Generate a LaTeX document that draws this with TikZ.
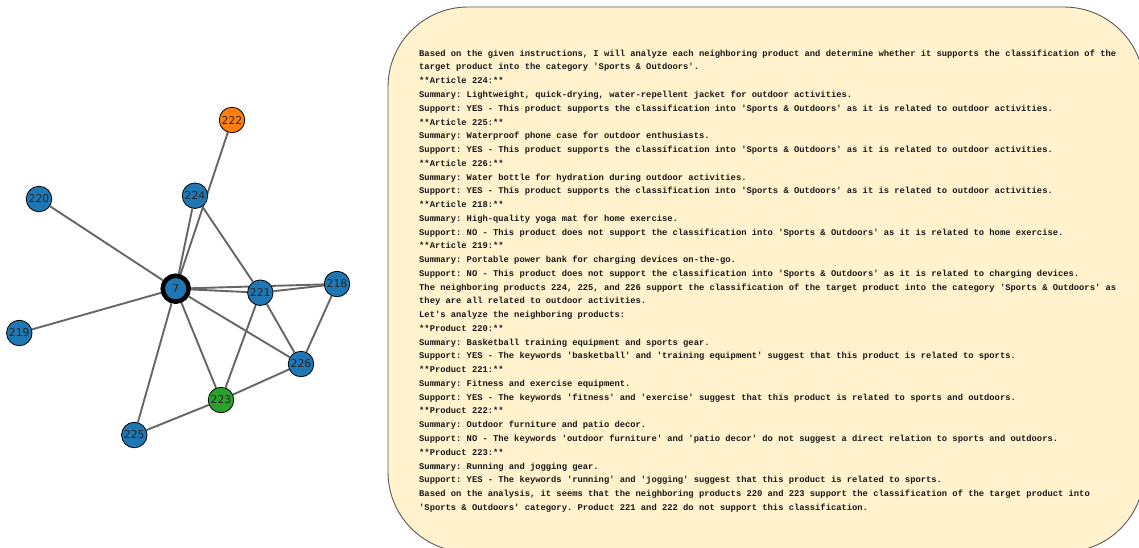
\documentclass[tikz,border=0pt]{standalone}
\usepackage{fontspec}
\usetikzlibrary{backgrounds}
\setmainfont{DejaVu Sans}
\setmonofont{Liberation Mono}
\definecolor{nodeblue}{HTML}{1F77B4}
\definecolor{nodeorange}{HTML}{FF7F0E}
\definecolor{nodegreen}{HTML}{2CA02C}
\definecolor{notefill}{HTML}{FFF2CC}
\definecolor{linkgray}{HTML}{666666}
\begin{document}
\begin{tikzpicture}[x=1pt, y=-1pt,
            vertex/.style={circle, draw=black, line width=0.8pt, fill=nodeblue,
                minimum size=25.5pt, inner sep=0pt, text=black!85,
                font=\fontsize{10.8}{10.8}\selectfont},
            target/.style={vertex, line width=4.5pt, minimum size=26pt},
            link/.style={draw=linkgray, line width=1.9pt},
            note/.style={draw=black!65, line width=0.9pt, fill=notefill, rounded corners=80pt}
        ]
            \useasboundingbox (0,0) rectangle (1139,547);
            \clip (0,0) rectangle (1139,547);

            % answer box - runs off the right and bottom edges
            \draw[note] (388,7) rectangle (1144,552);
            \node[anchor=north west, inner sep=0pt, align=left, text=black!90,
                font=\ttfamily\bfseries\fontsize{8.8}{13.76}\selectfont\frenchspacing] (answer) at (419,49.5) {%
Based on the given instructions, I will analyze each neighboring product and determine whether it supports the classification of the\\
target product into the category 'Sports \& Outdoors'.\\
**Article 224:**\\
Summary: Lightweight, quick-drying, water-repellent jacket for outdoor activities.\\
Support: YES - This product supports the classification into 'Sports \& Outdoors' as it is related to outdoor activities.\\
**Article 225:**\\
Summary: Waterproof phone case for outdoor enthusiasts.\\
Support: YES - This product supports the classification into 'Sports \& Outdoors' as it is related to outdoor activities.\\
**Article 226:**\\
Summary: Water bottle for hydration during outdoor activities.\\
Support: YES - This product supports the classification into 'Sports \& Outdoors' as it is related to outdoor activities.\\
**Article 218:**\\
Summary: High-quality yoga mat for home exercise.\\
Support: NO - This product does not support the classification into 'Sports \& Outdoors' as it is related to home exercise.\\
**Article 219:**\\
Summary: Portable power bank for charging devices on-the-go.\\
Support: NO - This product does not support the classification into 'Sports \& Outdoors' as it is related to charging devices.\\
The neighboring products 224, 225, and 226 support the classification of the target product into the category 'Sports \& Outdoors' as\\
they are all related to outdoor activities.\\
Let's analyze the neighboring products:\\
**Product 220:**\\
Summary: Basketball training equipment and sports gear.\\
Support: YES - The keywords 'basketball' and 'training equipment' suggest that this product is related to sports.\\
**Product 221:**\\
Summary: Fitness and exercise equipment.\\
Support: YES - The keywords 'fitness' and 'exercise' suggest that this product is related to sports and outdoors.\\
**Product 222:**\\
Summary: Outdoor furniture and patio decor.\\
Support: NO - The keywords 'outdoor furniture' and 'patio decor' do not suggest a direct relation to sports and outdoors.\\
**Product 223:**\\
Summary: Running and jogging gear.\\
Support: YES - The keywords 'running' and 'jogging' suggest that this product is related to sports.\\
Based on the analysis, it seems that the neighboring products 220 and 223 support the classification of the target product into\\
'Sports \& Outdoors' category. Product 221 and 222 do not support this classification.};

            % graph
            \node[target] (n7) at (175.7,288.7) {7};
            \node[vertex, fill=nodeorange] (n222) at (232,120) {222};
            \node[vertex] (n224) at (195,195.7) {224};
            \node[vertex] (n220) at (39,199) {220};
            \node[vertex] (n221) at (260.3,292.7) {221};
            \node[vertex] (n218) at (337,284) {218};
            \node[vertex] (n219) at (19.3,333) {219};
            \node[vertex] (n226) at (301,364) {226};
            \node[vertex, fill=nodegreen] (n223) at (221,400) {223};
            \node[vertex] (n225) at (134.3,435) {225};

            % edges go under the nodes
            \begin{scope}[on background layer]
            \draw[link] (n7) -- (n220);
            \draw[link] (n7) -- (n219);
            \draw[link] (n7) -- (n224);
            \draw[link] (n7) -- (n222);
            \draw[link] (n7) -- (n221);
            \draw[link] (n7) -- (n218);
            \draw[link] (n7) -- (n226);
            \draw[link] (n7) -- (n223);
            \draw[link] (n7) -- (n225);
            \draw[link] (n224) -- (n221);
            \draw[link] (n221) -- (n218);
            \draw[link] (n221) -- (n226);
            \draw[link] (n221) -- (n223);
            \draw[link] (n218) -- (n226);
            \draw[link] (n226) -- (n223);
            \draw[link] (n223) -- (n225);
            \end{scope}
        \end{tikzpicture}
\end{document}
